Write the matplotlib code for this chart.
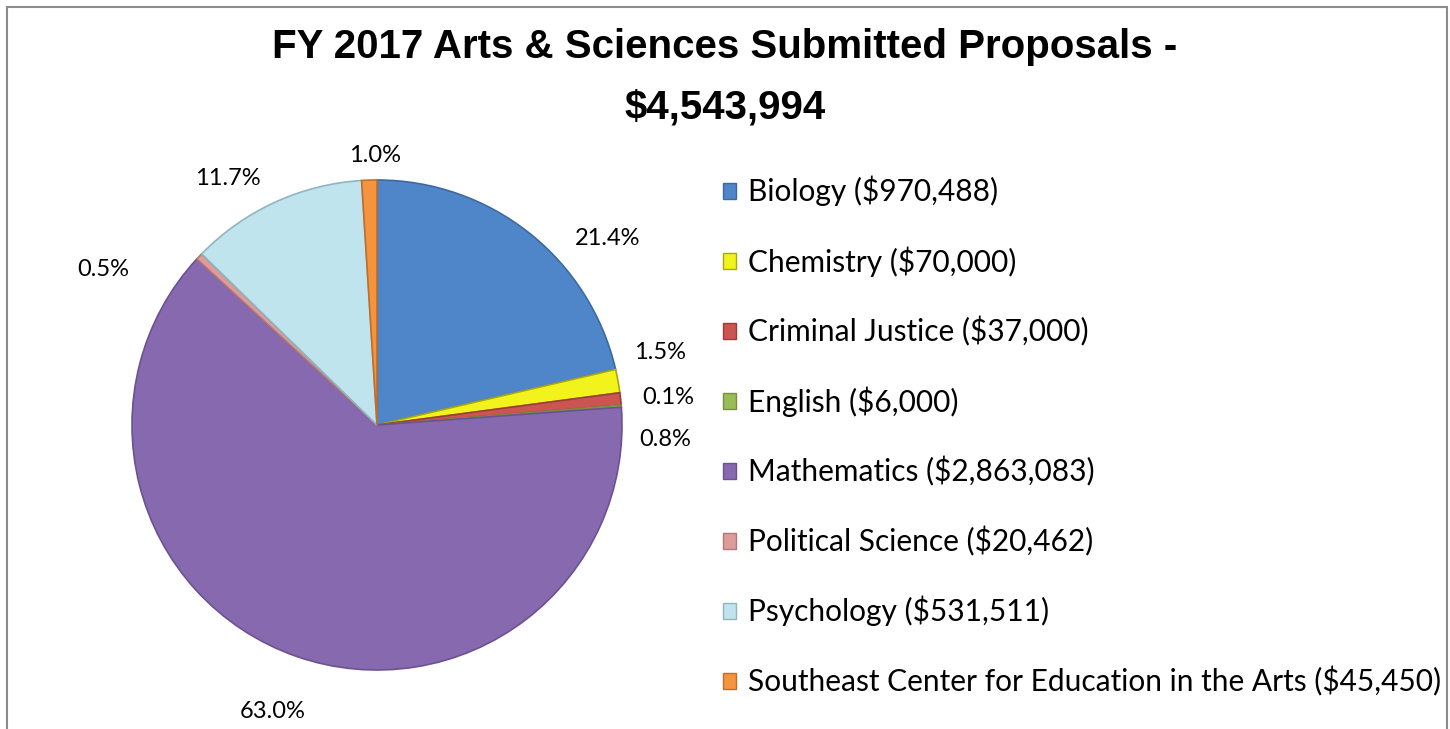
import matplotlib
matplotlib.use("Agg")
import matplotlib.pyplot as plt
from matplotlib.patches import Patch, Rectangle

# Data
departments = ["Biology", "Chemistry", "Criminal Justice", "English", "Mathematics",
               "Political Science", "Psychology",
               "Southeast Center for Education in the Arts"]
amounts = [970488, 70000, 37000, 6000, 2863083, 20462, 531511, 45450]
pct_labels = ["21.4%", "1.5%", "0.8%", "0.1%", "63.0%", "0.5%", "11.7%", "1.0%"]
colors = ["#4f86c9", "#f2f21c", "#cc5552", "#9bbb59", "#8769b0",
          "#dc9c9a", "#bfe4ee", "#f5943f"]
edge_colors = ["#3d6a9e", "#a8a812", "#9a3c3a", "#76903f", "#6b5290",
               "#b07876", "#8fb5c0", "#c06e2a"]

# label placement (in pie-radius units, relative to centre)
label_pos = [(0.94, 0.763), (1.155, 0.294), (1.176, -0.061), (1.188, 0.114),
             (-0.424, -1.171), (-1.118, 0.633), (-0.608, 1.008), (-0.008, 1.102)]

fig = plt.figure(figsize=(14.5, 7.29), dpi=100)

# outer frame
fig.patches.append(Rectangle((7 / 1450, -0.01), 1440 / 1450, 1 - 7 / 729 + 0.01,
                             transform=fig.transFigure, fill=False,
                             edgecolor="#8c8c8c", linewidth=1.5))

fig.text(0.5, 1 - 77 / 729, "FY 2017 Arts & Sciences Submitted Proposals -\n$4,543,994",
         ha="center", va="center", fontsize=29, fontweight="bold",
         family="Liberation Sans", linespacing=1.74)

ax = fig.add_axes([(377 - 245) / 1450, (729 - 425 - 245) / 729, 490 / 1450, 490 / 729])
wedges, _ = ax.pie(amounts, colors=colors, startangle=90, counterclock=False,
                   radius=1.0, wedgeprops=dict(linewidth=1.2))
for w, ec in zip(wedges, edge_colors):
    w.set_edgecolor(ec)
ax.set_xlim(-1, 1)
ax.set_ylim(-1, 1)
ax.set_aspect("equal")

for (x, y), txt in zip(label_pos, pct_labels):
    ax.text(x, y, txt, ha="center", va="center", fontsize=17, family="Lato",
            clip_on=False)

handles = [Patch(facecolor=c, edgecolor=e, linewidth=1.0) for c, e in zip(colors, edge_colors)]
labels = [f"{d} (${a:,})" for d, a in zip(departments, amounts)]
fig.legend(handles, labels, loc="upper left", bbox_to_anchor=(711 / 1450, 1 - 164 / 729),
           frameon=False, prop={"family": "Lato", "size": 21.5},
           handlelength=0.45, handleheight=0.45, handletextpad=0.4,
           labelspacing=1.33, borderaxespad=0)

fig.savefig("out.png", dpi=100)
